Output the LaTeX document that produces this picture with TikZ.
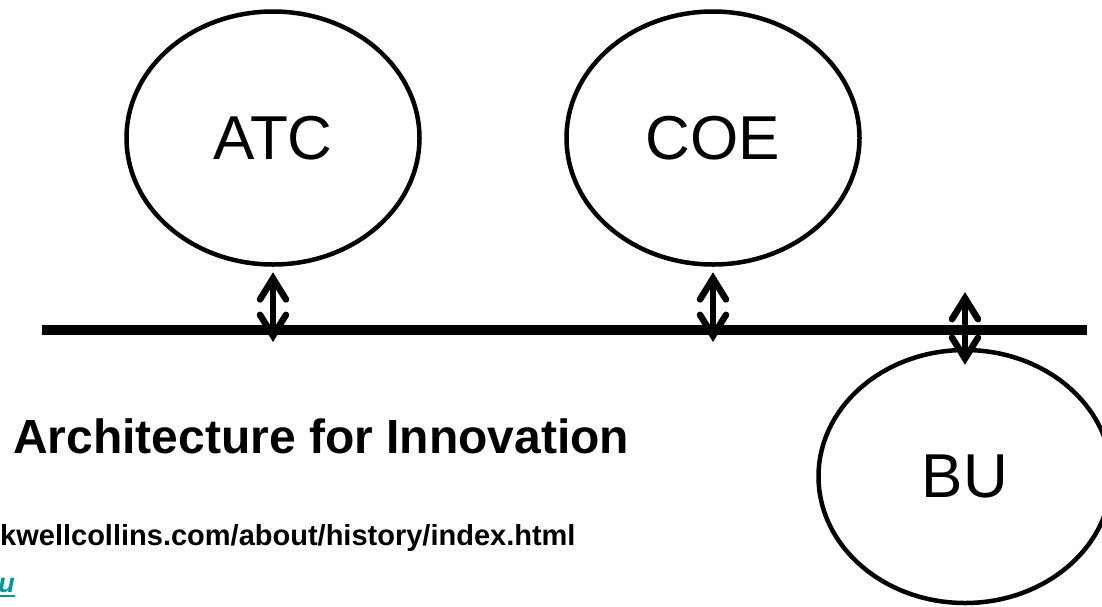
\documentclass[tikz,border=0pt]{standalone}
\usepackage{fontspec}
\setmainfont{Liberation Sans}
\usetikzlibrary{arrows.meta,shapes.geometric,positioning}
\definecolor{linkteal}{RGB}{0,153,153}

\begin{document}
\begin{tikzpicture}[
		x=1pt, y=-1pt,
		unit/.style={ellipse, draw, line width=4.5pt, minimum width=293pt, minimum height=253pt, inner sep=0pt, font=\fontsize{62}{74}\selectfont},
		bus/.style={line width=10pt},
		tap/.style={line width=6.5pt, {Straight Barb[length=21pt,width=26pt,line cap=round,line join=miter]}-{Straight Barb[length=21pt,width=26pt,line cap=round,line join=miter]}},
		caption/.style={anchor=base west, inner sep=0pt, font=\bfseries\fontsize{#1}{#1}\selectfont}
		]
		\useasboundingbox (0,0) rectangle (1102,606);
		\node[unit] (ATC) at (273,138) {ATC};
		\node[unit] (COE) at (713,138) {COE};
		\node[unit] (BU) at (965,476.5) {BU};
		\coordinate (busW) at (42,330);
		\coordinate (busE) at (1087,330);
		\draw[bus] (busW) -- (busE);
		\coordinate (tapA) at (271,342);
		\coordinate (tapC) at (710,342);
		\coordinate (tapB) at (965,292);
		\draw[tap] ([yshift=-5.5pt]ATC.south) -- (ATC.south |- tapA);
		\draw[tap] ([yshift=-5.5pt]COE.south) -- (COE.south |- tapC);
		\draw[tap] (tapB) -- ([yshift=-17pt]BU.north);
		\node[caption=48] (title) at (13,453) {Architecture for Innovation};
		\node[caption=29] (source) at (0,545) {kwellcollins.com/about/history/index.html};
		\node[anchor=base east, inner sep=0pt, text=linkteal, font=\bfseries\itshape\fontsize{27}{27}\selectfont] (mail) at (15,592) {u};
		\draw[linkteal, line width=2.5pt] ([yshift=-4pt]mail.base west) -- ([yshift=-4pt]mail.base east);
\end{tikzpicture}
\end{document}
